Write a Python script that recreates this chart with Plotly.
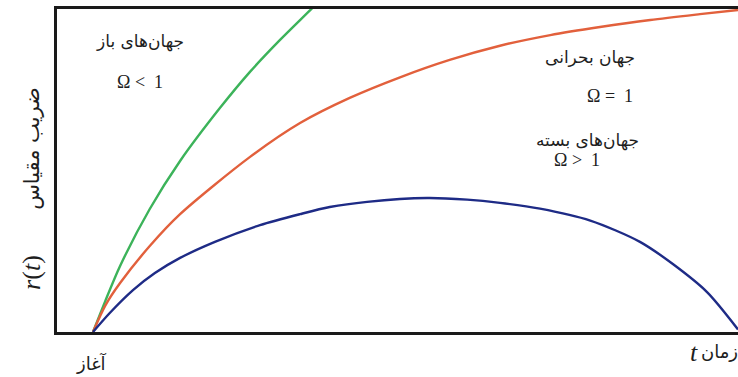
import plotly.graph_objects as go

# time (fraction of plotted span) and scale-factor values
t_open = [0, 0.019, 0.042, 0.088, 0.135, 0.197, 0.243, 0.290, 0.340, 0.352]
r_open = [0, 0.096, 0.205, 0.382, 0.531, 0.696, 0.807, 0.907, 1.006, 1.031]

t_crit = [0, 0.019, 0.042, 0.088, 0.135, 0.243, 0.321, 0.398, 0.476, 0.553, 0.631, 0.709, 0.786, 0.864, 0.941, 1.0]
r_crit = [0, 0.082, 0.152, 0.267, 0.366, 0.543, 0.649, 0.727, 0.791, 0.845, 0.889, 0.922, 0.947, 0.969, 0.987, 1.0]

t_closed = [0, 0.026, 0.062, 0.096, 0.135, 0.189, 0.259, 0.321, 0.367, 0.425, 0.518, 0.580, 0.631, 0.693, 0.771, 0.848, 0.899, 0.952, 1.0]
r_closed = [0, 0.059, 0.130, 0.183, 0.230, 0.280, 0.332, 0.366, 0.388, 0.404, 0.416, 0.411, 0.401, 0.383, 0.346, 0.280, 0.211, 0.124, 0.008]

PERSIAN = "DejaVu Sans"
SERIF = "Liberation Serif"
INK = "#1e1e1e"
NB = "\u00a0"

fig = go.Figure()
fig.add_trace(go.Scatter(x=t_open, y=r_open, mode="lines", line=dict(color="#3cb35a", width=2.4, shape="spline", smoothing=0.8), hoverinfo="skip"))
fig.add_trace(go.Scatter(x=t_crit, y=r_crit, mode="lines", line=dict(color="#e2603c", width=2.4, shape="spline", smoothing=0.8), hoverinfo="skip"))
fig.add_trace(go.Scatter(x=t_closed, y=r_closed, mode="lines", line=dict(color="#1e2b86", width=2.4, shape="spline", smoothing=0.8), hoverinfo="skip"))

def ann(text, x, y, size, font=PERSIAN, angle=0, ref="data"):
    xr, yr = ("x", "y") if ref == "data" else ("paper", "paper")
    fig.add_annotation(x=x, y=y, xref=xr, yref=yr, text=text, showarrow=False,
                       xanchor="center", yanchor="middle",
                       textangle=angle, font=dict(family=font, size=size, color=INK))

ann("جهان‌های باز", 0.073, 0.901, 17)
ann("Ω" + NB + "<" + NB + NB + "1", 0.073, 0.776, 18, SERIF)
ann("جهان بحرانی", 0.771, 0.851, 17)
ann("Ω" + NB + "=" + NB + NB + "1", 0.802, 0.733, 18, SERIF)
ann("جهان‌های بسته", 0.767, 0.596, 17)
ann("Ω" + NB + ">" + NB + NB + "1", 0.750, 0.534, 18, SERIF)

ann("آغاز", 0.050, -0.096, 18, ref="paper")
ann("زمان", 0.973, -0.060, 18, ref="paper")
ann("<i>t</i>", 0.935, -0.062, 26, SERIF, ref="paper")
ann("ضریب مقیاس", -0.0367, 0.567, 21, PERSIAN, -90, ref="paper")
ann("<i>r</i>(<i>t</i>)", -0.0367, 0.183, 26, SERIF, -90, ref="paper")

fig.update_layout(
    width=738, height=377,
    margin=dict(l=57, r=0, t=9, b=45),
    paper_bgcolor="white", plot_bgcolor="white",
    showlegend=False,
)
fig.update_xaxes(range=[-0.0558, 1.0], showgrid=False, zeroline=False, showticklabels=False, ticks="",
                 showline=True, linecolor="#1a1a1a", linewidth=2.5, mirror=True)
fig.update_yaxes(range=[0, 1.003], showgrid=False, zeroline=False, showticklabels=False, ticks="",
                 showline=True, linecolor="#1a1a1a", linewidth=2.5)

fig.write_html("out.html", config={"displayModeBar": False},
               post_script="document.body.style.margin='0';document.body.style.overflow='hidden';")
